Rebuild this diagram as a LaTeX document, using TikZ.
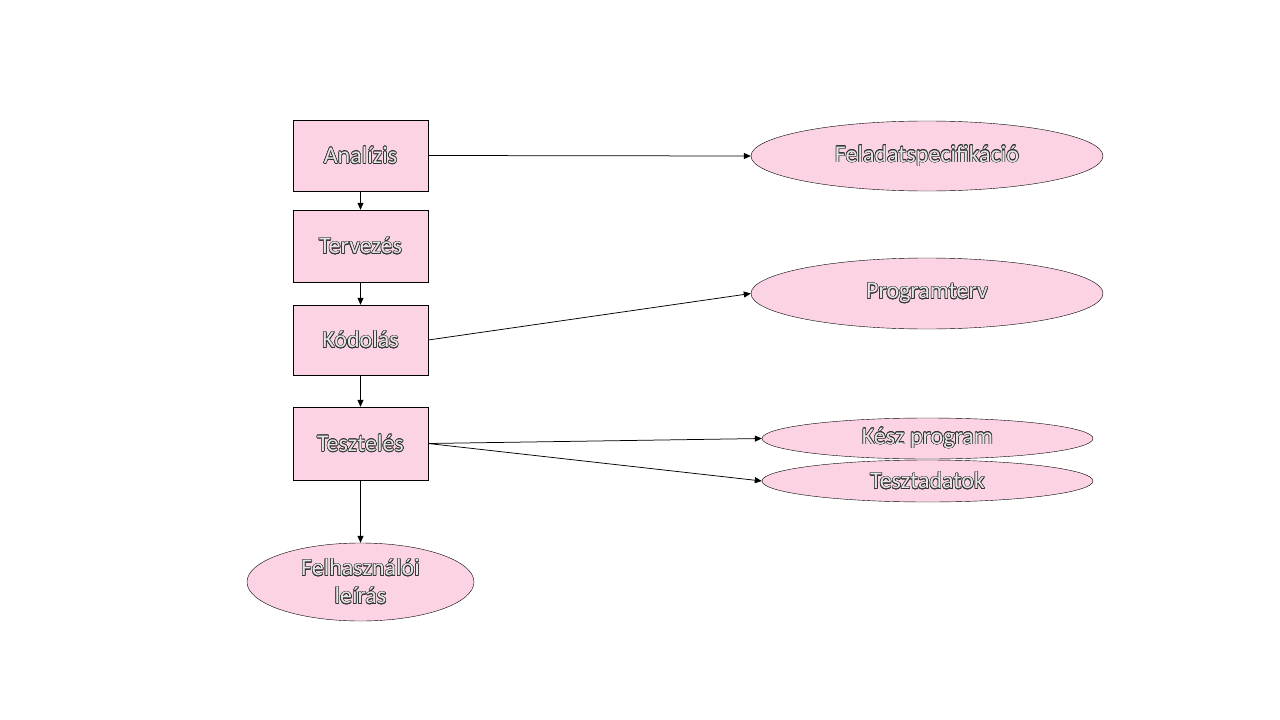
\documentclass[tikz,border=0pt]{standalone}
\usepackage{fontspec}
\setmainfont{Carlito}
\usepackage{contour}
\usetikzlibrary{arrows.meta, positioning, shapes.geometric}
\definecolor{mypink}{RGB}{252,211,228}
\contourlength{0.6pt}
\newcommand{\outl}[1]{\contour{black!80}{\textcolor{white!90!black}{#1}}}

\begin{document}
\begin{tikzpicture}[x=1pt,y=-1pt,
    every node/.style={font=\fontsize{24}{26}\selectfont},
    phase/.style={draw,fill=mypink,minimum width=135pt,minimum height=71pt,inner sep=0pt},
    result/.style={draw,fill=mypink,ellipse,inner sep=0pt},
    arr/.style={-{Triangle[length=7pt,width=6pt]},line width=0.75pt}]
    \useasboundingbox (0,0) rectangle (1280,720);
    % Phases
    \node[phase] (anal) at (360.5,155.5) {\outl{Analízis}};
    \node[phase,minimum height=72pt] (terv) at (360.5,246) {\outl{Tervezés}};
    \node[phase,minimum height=70pt] (kod) at (360.5,340) {\outl{Kódolás}};
    \node[phase,minimum height=73pt] (teszt) at (360.5,443.5) {\outl{Tesztelés}};
    % Results
    \node[result,minimum width=227pt,minimum height=78pt,align=center] (leiras) at (360.5,582) {\outl{Felhasználói}\\[2pt]\outl{leírás}};
    \node[result,minimum width=352pt,minimum height=70pt] (spec) at (927,156) {\outl{Feladatspecifikáció}};
    \node[result,minimum width=352pt,minimum height=71pt] (pterv) at (927,293.5) {\outl{Programterv}};
    \node[result,minimum width=331pt,minimum height=41pt] (kesz) at (927.5,438.5) {\outl{Kész program}};
    \node[result,minimum width=331pt,minimum height=42pt] (adat) at (927.5,481) {\outl{Tesztadatok}};
    % Flow between phases
    \draw[arr] (anal) -- (terv);
    \draw[arr] (terv) -- (kod);
    \draw[arr] (kod) -- (teszt);
    \draw[arr] (teszt) -- (leiras);
    % Products
    \draw[arr] (anal.east) -- (spec.west);
    \draw[arr] (kod.east) -- (pterv.west);
    \draw[arr] (teszt.east) -- (kesz.west);
    \draw[arr] (teszt.east) -- (adat.west);
\end{tikzpicture}
\end{document}
